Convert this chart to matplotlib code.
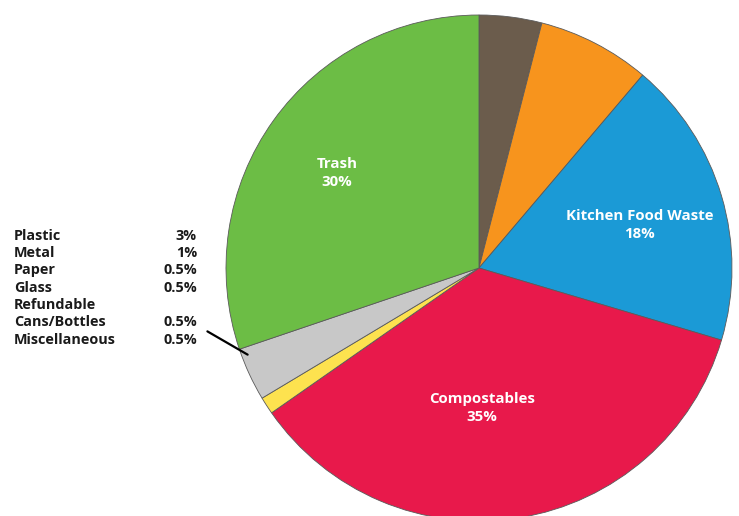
import numpy as np
import matplotlib.pyplot as plt

plt.rcParams['font.family'] = ['Open Sans', 'DejaVu Sans']

# slices, clockwise from 12 o'clock
slice_names = ['Other', 'Other2', 'Kitchen Food Waste', 'Compostables', 'Small', 'Recyclables', 'Trash']
slice_vals = [4.0, 7.2, 18.4, 35.7, 1.1, 3.4, 30.2]
slice_colors = ['#6b5c4c', '#f7941d', '#1b9ad6', '#e8194b', '#fde24f', '#c8c8c8', '#6cbd45']

# labels inside the pie
pie_labels = ['Trash\n30%', 'Kitchen Food Waste\n18%', 'Compostables\n35%']
pie_label_pos = [(-0.561, 0.375), (0.636, 0.170), (0.012, -0.553)]

# side list
side_names = ['Plastic', 'Metal', 'Paper', 'Glass', 'Refundable', 'Cans/Bottles', 'Miscellaneous']
side_pcts = ['3%', '1%', '0.5%', '0.5%', '', '0.5%', '0.5%']

W, H = 739, 516
fig = plt.figure(figsize=(W / 100, H / 100), dpi=100)

cx, cy, r = 479, 268, 253
ax = fig.add_axes([(cx - r) / W, (H - cy - r) / H, 2 * r / W, 2 * r / H])
ax.pie(slice_vals, colors=slice_colors, startangle=90, counterclock=False,
       radius=1, wedgeprops=dict(edgecolor='#5a5a5a', linewidth=0.6))
ax.set_xlim(-1, 1)
ax.set_ylim(-1, 1)
ax.set_aspect('auto')
ax.axis('off')

for txt, (x, y) in zip(pie_labels, pie_label_pos):
    ax.text(x, y, txt, color='white', fontsize=10.8, fontweight='bold',
            ha='center', va='center', linespacing=1.35)

# leader line to the grey slice
ax.annotate('', xy=(-0.905, -0.348), xytext=(-1.083, -0.245),
            arrowprops=dict(arrowstyle='-', color='black', lw=1.6),
            annotation_clip=False)

row_y = [236, 253, 270, 288, 305, 322, 340]
for name, pct, y in zip(side_names, side_pcts, row_y):
    fig.text(14 / W, 1 - y / H, name, fontsize=10.4, fontweight='bold',
             ha='left', va='center', color='#1a1a1a')
    if pct:
        fig.text(197 / W, 1 - y / H, pct, fontsize=10.4, fontweight='bold',
                 ha='right', va='center', color='#1a1a1a')

fig.savefig('out.png', dpi=100)
